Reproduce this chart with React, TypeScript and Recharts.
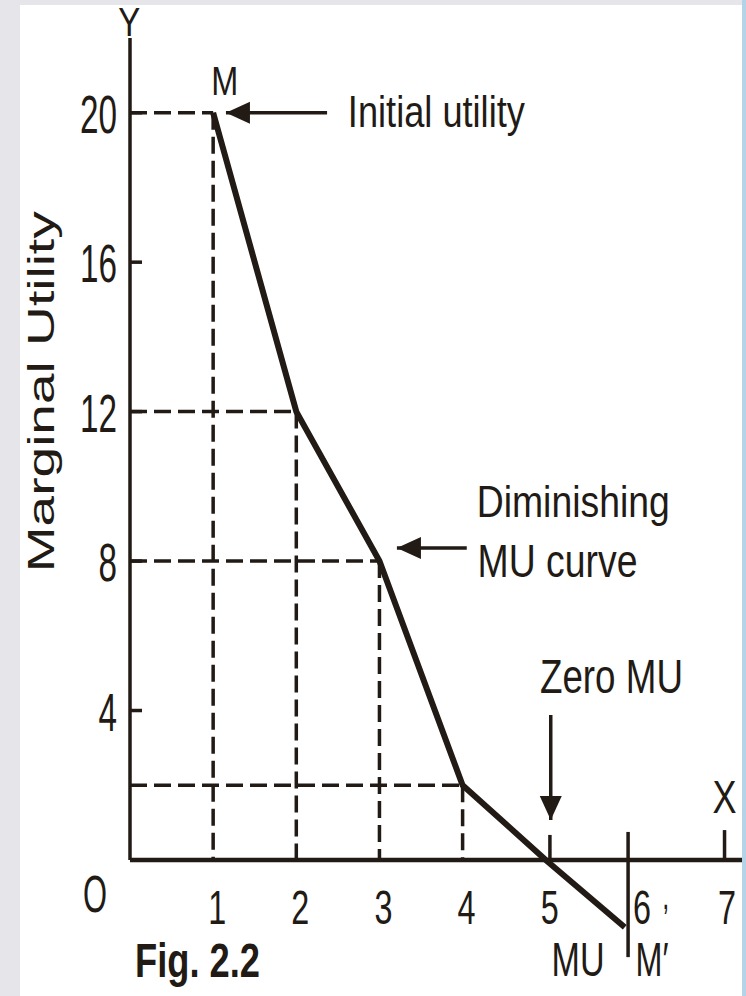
import React from "react";
import {
  ComposedChart,
  Line,
  XAxis,
  YAxis,
  ReferenceLine,
  ReferenceDot,
} from "recharts";

// marginal utility per unit consumed
const units = [1, 2, 3, 4, 5, 5.95];
const marginalUtility = [20, 12, 8, 2, 0, -1.8];

const yTicks = [4, 8, 12, 16, 20];
const xTicks = [1, 2, 3, 4, 5, 6, 7];

const data = units.map((x, i) => ({ x, mu: marginalUtility[i] }));

const INK = "#211a15";
const FONT = "'Liberation Sans', Arial, sans-serif";
const X_MAX = 7.36;
const Y_MIN = -3.4;
const Y_MAX = 22;

type Pt = { x: number; y: number };

// annotation texts, anchored in data space
const labels: {
  text: string;
  at: Pt;
  size: number;
  len: number;
  anchor?: "start" | "middle" | "end";
  weight?: number;
  rotate?: number;
}[] = [
  { text: "Y", at: { x: -0.01, y: 22.06 }, size: 40, len: 22 },
  { text: "M", at: { x: 1.14, y: 20.48 }, size: 40, len: 27 },
  { text: "Initial utility", at: { x: 2.62, y: 19.62 }, size: 44, len: 177, anchor: "start" },
  { text: "Diminishing", at: { x: 4.17, y: 9.18 }, size: 44, len: 193, anchor: "start" },
  { text: "MU curve", at: { x: 4.18, y: 7.58 }, size: 46, len: 160, anchor: "start" },
  { text: "Zero MU", at: { x: 4.93, y: 4.47 }, size: 48, len: 143, anchor: "start" },
  { text: "X", at: { x: 7.15, y: 1.26 }, size: 46, len: 24 },
  { text: "O", at: { x: -0.42, y: -1.39 }, size: 52, len: 24 },
  { text: "Fig. 2.2", at: { x: 0.06, y: -3.13 }, size: 48, len: 125, anchor: "start", weight: 700 },
  { text: "MU", at: { x: 5.07, y: -3.1 }, size: 48, len: 53, anchor: "start" },
  { text: "M\u2032", at: { x: 6.08, y: -3.1 }, size: 48, len: 33, anchor: "start" },
  { text: ",", at: { x: 6.4, y: -1.3 }, size: 40, len: 7, anchor: "start" },
  { text: "Marginal Utility", at: { x: -0.91, y: 12.53 }, size: 36, len: 361, rotate: -90 },
];

const arrows: { from: Pt; to: Pt; dir: "left" | "down" }[] = [
  { from: { x: 2.37, y: 20 }, to: { x: 1.154, y: 20 }, dir: "left" },
  { from: { x: 4.05, y: 8.35 }, to: { x: 3.21, y: 8.35 }, dir: "left" },
  { from: { x: 5.06, y: 3.88 }, to: { x: 5.06, y: 1.07 }, dir: "down" },
];

// small marks on the x axis near 5, 6 and 7
const axisMarks: { x: number; y1: number; y2: number }[] = [
  { x: 5.05, y1: 0, y2: 0.67 },
  { x: 5.99, y1: 0.75, y2: -2.6 },
  { x: 7.15, y1: 0, y2: 0.8 },
];

const xLabelNudge: Record<number, number> = { 6: 13, 7: 15 };

const Txt = ({ x, y, text, size, len, anchor = "middle", weight = 400, rotate }: any) => (
  <text
    x={x}
    y={y}
    fontSize={size}
    fontFamily={FONT}
    fontWeight={weight}
    fill={INK}
    textAnchor={anchor}
    textLength={len}
    lengthAdjust="spacingAndGlyphs"
    transform={rotate ? `rotate(${rotate} ${x} ${y})` : undefined}
  >
    {text}
  </text>
);

const YTick = ({ x, y, payload }: any) => {
  const s = String(payload.value);
  return (
    <g>
      <line x1={x} x2={x + 12} y1={y} y2={y} stroke={INK} strokeWidth={3.5} />
      <Txt x={x - 13} y={y + 20} text={s} size={54} len={s.length * 18.5} anchor="end" />
    </g>
  );
};

const ArrowHead = ({ cx, cy, dir }: any) => {
  const L = 24;
  const W = 11;
  const pts =
    dir === "left"
      ? `${cx},${cy} ${cx + L},${cy - W} ${cx + L},${cy + W}`
      : `${cx},${cy} ${cx - W},${cy - L} ${cx + W},${cy - L}`;
  return <polygon points={pts} fill={INK} />;
};

export default function App() {
  const guides = data.filter((d) => d.mu > 0);
  return (
    <div style={{ position: "absolute", left: 0, top: 0, width: 746, height: 996, background: "#e6e5ea" }}>
      <div style={{ position: "absolute", left: 20, top: 5, width: 722, height: 991, background: "#fff" }} />
      <div style={{ position: "absolute", left: 742, top: 0, width: 4, height: 996, background: "#b5d3e6" }} />
      <div style={{ position: "absolute", left: 0, top: 0 }}>
        <ComposedChart
          width={746}
          height={996}
          data={data}
          margin={{ top: 38, right: 4, bottom: 9, left: 0 }}
        >
          <XAxis dataKey="x" type="number" domain={[0, X_MAX]} allowDataOverflow hide />
          <YAxis
            type="number"
            domain={[Y_MIN, Y_MAX]}
            allowDataOverflow
            ticks={yTicks}
            width={130}
            axisLine={false}
            tickLine={false}
            tickSize={0}
            tickMargin={0}
            tick={<YTick />}
          />

          {guides.map((d) => (
            <ReferenceLine
              key={`h${d.x}`}
              segment={[{ x: 0, y: d.mu }, { x: d.x, y: d.mu }]}
              stroke={INK}
              strokeWidth={3.5}
              strokeDasharray="17 7"
            />
          ))}
          {guides.map((d) => (
            <ReferenceLine
              key={`v${d.x}`}
              segment={[{ x: d.x, y: d.mu }, { x: d.x, y: 0 }]}
              stroke={INK}
              strokeWidth={3.5}
              strokeDasharray="17 7"
            />
          ))}

          {/* axes drawn through the origin */}
          <ReferenceLine segment={[{ x: 0, y: 0 }, { x: X_MAX, y: 0 }]} stroke={INK} strokeWidth={4.5} />
          <ReferenceLine segment={[{ x: 0, y: 0 }, { x: 0, y: Y_MAX }]} stroke={INK} strokeWidth={3.5} />
          {axisMarks.map((m) => (
            <ReferenceLine
              key={`m${m.x}`}
              segment={[{ x: m.x, y: m.y1 }, { x: m.x, y: m.y2 }]}
              stroke={INK}
              strokeWidth={3.5}
              ifOverflow="visible"
            />
          ))}

          <Line
            dataKey="mu"
            type="linear"
            stroke={INK}
            strokeWidth={6}
            dot={false}
            activeDot={false}
            isAnimationActive={false}
          />

          {arrows.map((a, i) => (
            <ReferenceLine key={`as${i}`} segment={[a.from, a.to]} stroke={INK} strokeWidth={3.5} />
          ))}
          {arrows.map((a, i) => (
            <ReferenceDot
              key={`ah${i}`}
              x={a.to.x}
              y={a.to.y}
              r={1}
              ifOverflow="visible"
              shape={(p: any) => <ArrowHead cx={p.cx} cy={p.cy} dir={a.dir} />}
            />
          ))}

          {xTicks.map((t) => (
            <ReferenceDot
              key={`xt${t}`}
              x={t}
              y={0}
              r={1}
              ifOverflow="visible"
              shape={(p: any) => (
                <Txt x={p.cx + (xLabelNudge[t] ?? 4)} y={p.cy + 64} text={String(t)} size={48} len={18} />
              )}
            />
          ))}

          {labels.map((l) => (
            <ReferenceDot
              key={l.text}
              x={l.at.x}
              y={l.at.y}
              r={1}
              ifOverflow="visible"
              shape={(p: any) => (
                <Txt
                  x={p.cx}
                  y={p.cy}
                  text={l.text}
                  size={l.size}
                  len={l.len}
                  anchor={l.anchor}
                  weight={l.weight}
                  rotate={l.rotate}
                />
              )}
            />
          ))}
        </ComposedChart>
      </div>
    </div>
  );
}
